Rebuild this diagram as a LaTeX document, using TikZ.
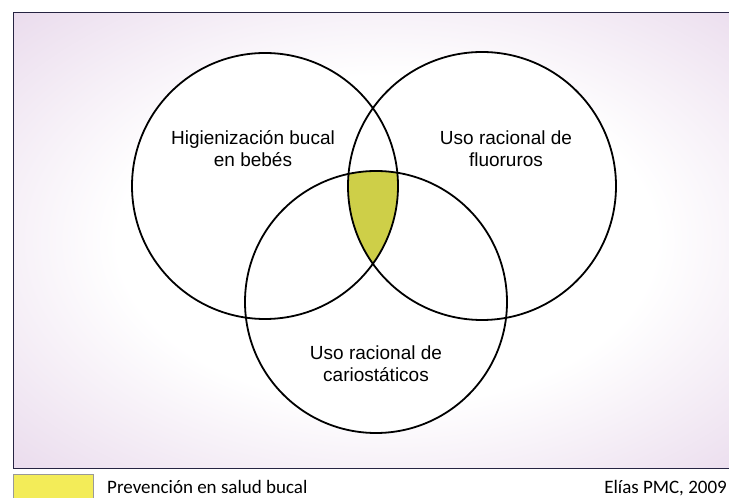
\documentclass[tikz,border=0pt]{standalone}
\usepackage{fontspec}
\setmainfont{Liberation Sans}
\newfontfamily\legendfont{Carlito}
\usetikzlibrary{math}
\definecolor{venngreen}{RGB}{206,207,72}
\definecolor{legendyellow}{RGB}{243,236,88}
\definecolor{framebg}{RGB}{226,206,230}
\definecolor{framecolor}{RGB}{38,36,66}
\pgfdeclareradialshading{paperglow}{\pgfpoint{0bp}{0bp}}{color(0bp)=(white); color(18bp)=(white); color(35bp)=(framebg!70!white); color(50bp)=(framebg)}
\tikzset{
  vennline/.style={line width=1.8pt, black},
  venntext/.style={align=center, inner sep=0pt, font=\fontsize{19}{22}\selectfont},
  legendtext/.style={inner sep=0pt, font=\legendfont\fontsize{19}{22}\selectfont}
}

\begin{document}
\begin{tikzpicture}[x=1pt,y=1pt]
\tikzmath{
\rl=133;
\rr=134;
\rb=131;
\lx=265; \ly=312;
\rx=482; \ry=312;
\bx=376; \by=196;
}
\clip (0,0) rectangle (729,498);
%background
\fill[white] (0,0) rectangle (729,498);
\shade[shading=paperglow] (13.5,29.5) rectangle (760,485.5);
\draw[framecolor, line width=1.6pt] (760,485.5) -- (13.5,485.5) -- (13.5,29.5) -- (760,29.5);

%circles
\fill[white] (\lx,\ly) circle (\rl);
\fill[white] (\rx,\ry) circle (\rr);
\fill[white] (\bx,\by) circle (\rb);

%common area
\begin{scope}
\clip (\lx,\ly) circle (\rl);
\clip (\rx,\ry) circle (\rr);
\fill[venngreen] (\bx,\by) circle (\rb);
\end{scope}

\draw[vennline] (\lx,\ly) circle (\rl);
\draw[vennline] (\rx,\ry) circle (\rr);
\draw[vennline] (\bx,\by) circle (\rb);

%labels
\node[venntext] (higiene) at (253,349) {Higienización bucal\\en bebés};
\node[venntext] (fluor) at (506,349.5) {Uso racional de\\fluoruros};
\node[venntext] (cario) at (376,134) {Uso racional de\\cariostáticos};

%legend
\fill[legendyellow, draw=black!40] (13.5,-2) rectangle (93,24);
\node[legendtext, anchor=base west] (prevencion) at (107,4.5) {Prevención en salud bucal};
\node[legendtext, anchor=base east] (autor) at (727,4.5) {Elías PMC, 2009};
\end{tikzpicture}
\end{document}
